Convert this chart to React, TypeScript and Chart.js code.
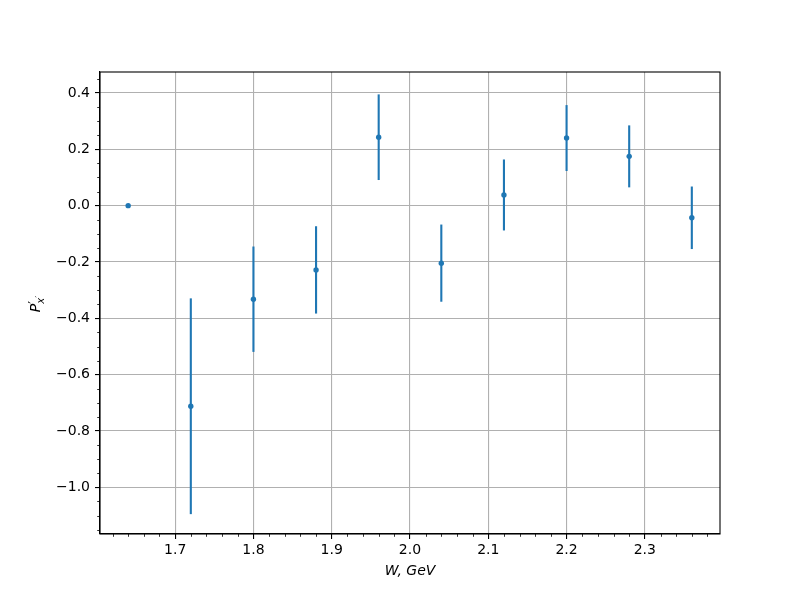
import React, { useEffect, useRef } from "react";
import { Chart, registerables } from "chart.js";

Chart.register(...registerables);

// Data
const wValues = [1.64, 1.72, 1.8, 1.88, 1.96, 2.04, 2.12, 2.2, 2.28, 2.36];
const pValues = [0.0, -0.712, -0.332, -0.228, 0.243, -0.204, 0.038, 0.24, 0.175, -0.043];
const pErrors = [0.0, 0.383, 0.187, 0.155, 0.152, 0.137, 0.126, 0.117, 0.11, 0.111];

const xTicks = [1.7, 1.8, 1.9, 2.0, 2.1, 2.2, 2.3];
const xTickLabels = ["1.7", "1.8", "1.9", "2.0", "2.1", "2.2", "2.3"];
const xMinorTicks = [1.62, 1.64, 1.66, 1.68, 1.72, 1.74, 1.76, 1.78, 1.82, 1.84, 1.86, 1.88, 1.92, 1.94, 1.96, 1.98, 2.02, 2.04, 2.06, 2.08, 2.12, 2.14, 2.16, 2.18, 2.22, 2.24, 2.26, 2.28, 2.32, 2.34, 2.36, 2.38];
const yTicks = [-1.0, -0.8, -0.6, -0.4, -0.2, 0.0, 0.2, 0.4];
const yTickLabels = ["\u22121.0", "\u22120.8", "\u22120.6", "\u22120.4", "\u22120.2", "0.0", "0.2", "0.4"];
const yMinorTicks = [-1.15, -1.1, -1.05, -0.95, -0.9, -0.85, -0.75, -0.7, -0.65, -0.55, -0.5, -0.45, -0.35, -0.3, -0.25, -0.15, -0.1, -0.05, 0.05, 0.1, 0.15, 0.25, 0.3, 0.35, 0.45];

const xRange = [1.604, 2.396];
const yRange = [-1.1655, 0.4745];

const xTitle = "W, GeV";

const BLUE = "#1f77b4";
const FONT = "DejaVu Sans";

const errorBarPlugin = {
  id: "errorBars",
  beforeDatasetsDraw(chart: any) {
    const { ctx, scales } = chart;
    const xs = scales.x;
    const ys = scales.y;
    ctx.save();
    ctx.strokeStyle = BLUE;
    ctx.lineWidth = 2.1;
    ctx.lineCap = "butt";
    wValues.forEach((w, i) => {
      const e = pErrors[i];
      if (!e) return;
      const px = xs.getPixelForValue(w);
      ctx.beginPath();
      ctx.moveTo(px, ys.getPixelForValue(pValues[i] - e));
      ctx.lineTo(px, ys.getPixelForValue(pValues[i] + e));
      ctx.stroke();
    });
    ctx.restore();
  },
};

const framePlugin = {
  id: "frame",
  afterDraw(chart: any) {
    const { ctx, chartArea, scales } = chart;
    const { left, right, top, bottom } = chartArea;
    ctx.save();
    ctx.strokeStyle = "#000";
    ctx.lineWidth = 1.1;
    ctx.strokeRect(left, top, right - left, bottom - top);
    // minor ticks
    ctx.lineWidth = 0.8;
    ctx.beginPath();
    xMinorTicks.forEach((v) => {
      const px = Math.round(scales.x.getPixelForValue(v)) + 0.5;
      ctx.moveTo(px, bottom);
      ctx.lineTo(px, bottom + 2.8);
    });
    yMinorTicks.forEach((v) => {
      const py = Math.round(scales.y.getPixelForValue(v)) + 0.5;
      ctx.moveTo(left, py);
      ctx.lineTo(left - 2.8, py);
    });
    ctx.stroke();

    // axis titles
    ctx.fillStyle = "#000";
    ctx.font = `italic 14px "${FONT}"`;
    ctx.textAlign = "center";
    ctx.textBaseline = "alphabetic";
    ctx.fillText(xTitle, (left + right) / 2, 575);

    // y title: P'_{x'}
    ctx.translate(40, (top + bottom) / 2);
    ctx.rotate(-Math.PI / 2);
    ctx.textAlign = "left";
    ctx.font = `italic 14px "${FONT}"`;
    const pW = ctx.measureText("P").width;
    ctx.font = `italic 10px "${FONT}"`;
    const xw = ctx.measureText("x").width;
    const total = pW + xw + 4;
    const sx = -total / 2;
    ctx.font = `italic 14px "${FONT}"`;
    ctx.fillText("P", sx, 0);
    ctx.font = `12px "${FONT}"`;
    ctx.fillText("\u2032", sx + pW, -3);
    ctx.font = `italic 10px "${FONT}"`;
    ctx.fillText("x", sx + pW, 4);
    ctx.font = `9px "${FONT}"`;
    ctx.fillText("\u2032", sx + pW + xw, 2);
    ctx.restore();
  },
};

export default function App() {
  const canvasRef = useRef<HTMLCanvasElement | null>(null);

  useEffect(() => {
    if (!canvasRef.current) return;
    const chart = new Chart(canvasRef.current, {
      type: "scatter",
      data: {
        datasets: [
          {
            data: wValues.map((w, i) => ({ x: w, y: pValues[i] })),
            backgroundColor: BLUE,
            borderColor: BLUE,
            borderWidth: 0,
            pointRadius: 2.7,
            pointHoverRadius: 2.7,
          },
        ],
      },
      options: {
        responsive: false,
        animation: false,
        devicePixelRatio: 1,
        layout: { padding: { top: 72, right: 80, left: 0, bottom: 0 } },
        plugins: {
          legend: { display: false },
          tooltip: { enabled: false },
        },
        scales: {
          x: {
            type: "linear",
            min: xRange[0],
            max: xRange[1],
            afterBuildTicks(scale: any) {
              scale.ticks = xTicks.map((v) => ({ value: v }));
            },
            afterFit(scale: any) {
              scale.height = 66;
            },
            ticks: {
              color: "#000",
              font: { family: FONT, size: 14 },
              padding: 3,
              maxRotation: 0,
              autoSkip: false,
              callback: (v: any) => {
                const i = xTicks.findIndex((t) => Math.abs(t - Number(v)) < 1e-9);
                return i >= 0 ? xTickLabels[i] : "";
              },
            },
            grid: {
              color: "#b0b0b0",
              lineWidth: 1.1,
              tickColor: "#000",
              tickLength: 5,
              tickWidth: 1.1,
            },
            border: { display: true, color: "#000", width: 1.1 },
          },
          y: {
            type: "linear",
            min: yRange[0],
            max: yRange[1],
            afterBuildTicks(scale: any) {
              scale.ticks = yTicks.map((v) => ({ value: v }));
            },
            afterFit(scale: any) {
              scale.width = 100;
            },
            ticks: {
              color: "#000",
              font: { family: FONT, size: 14 },
              padding: 5,
              autoSkip: false,
              callback: (v: any) => {
                const i = yTicks.findIndex((t) => Math.abs(t - Number(v)) < 1e-9);
                return i >= 0 ? yTickLabels[i] : "";
              },
            },
            grid: {
              color: "#b0b0b0",
              lineWidth: 1.1,
              tickColor: "#000",
              tickLength: 5,
              tickWidth: 1.1,
            },
            border: { display: true, color: "#000", width: 1.1 },
          },
        },
      },
      plugins: [errorBarPlugin, framePlugin],
    });
    return () => chart.destroy();
  }, []);

  return (
    <div style={{ position: "fixed", left: 0, top: 0, width: 800, height: 600, background: "#fff" }}>
      <canvas ref={canvasRef} width={800} height={600} style={{ width: 800, height: 600, display: "block" }} />
    </div>
  );
}
